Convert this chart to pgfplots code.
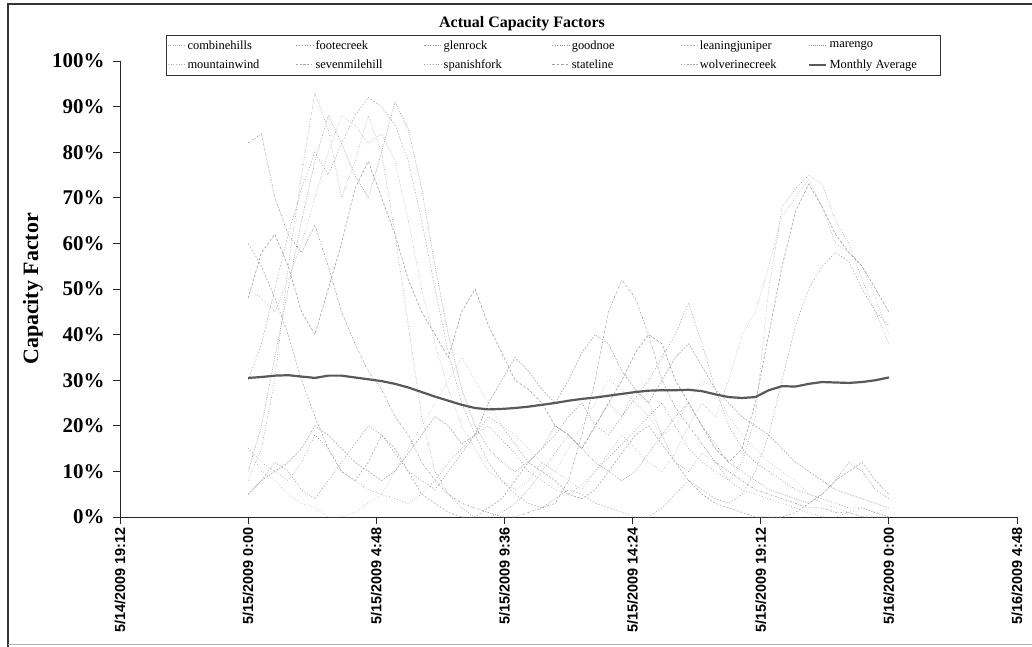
\documentclass[border=0pt]{standalone}
\usepackage{pgfplots}
\pgfplotsset{compat=1.18}
\usepackage{pgfplotstable}
\usepackage{fontspec}
\setmainfont{Liberation Serif}
\newfontfamily\sansf{Liberation Sans}

\pgfplotstableread{
h ch fc gr gn lj mr mw sm sf st wc avg
0 50 15 82 8 30 10 15 60 5 48 5 30.5
0.5 48 12 84 15 38 20 10 55 8 58 8 30.7
1 45 10 70 30 50 35 8 48 12 62 10 31.0
1.5 52 8 62 55 62 50 5 40 10 55 12 31.1
2 60 12 58 75 72 65 3 30 6 45 15 30.8
2.5 70 18 64 93 80 78 2 22 4 40 20 30.5
3 80 15 55 85 75 88 0 15 8 50 18 31.0
3.5 88 10 45 70 82 82 0 10 12 60 15 31.0
4 86 8 38 78 88 75 1 8 16 72 12 30.6
4.5 82 6 32 88 92 70 3 12 20 78 10 30.2
5 84 5 28 80 90 80 5 18 18 70 8 29.8
5.5 78 4 22 62 86 91 10 15 14 62 10 29.2
6 65 3 18 42 78 85 15 10 10 52 14 28.4
6.5 50 5 12 22 65 72 20 5 8 45 18 27.4
7 38 8 8 10 50 55 25 3 6 40 22 26.4
7.5 28 12 5 5 36 40 30 1 10 35 20 25.5
8 20 15 3 2 25 28 35 0 14 45 16 24.6
8.5 15 18 2 0 18 20 30 0 18 50 18 23.9
9 10 20 1 0 12 15 25 2 22 42 25 23.6
9.5 8 17 0 1 8 12 20 4 20 36 30 23.7
10 6 14 0 3 5 10 18 8 16 30 35 23.9
10.5 8 10 1 6 3 12 15 12 12 28 32 24.2
11 12 8 2 10 2 15 12 10 15 25 28 24.6
11.5 10 6 3 14 4 20 10 8 18 20 25 25.0
12 8 5 8 18 6 18 15 5 22 18 30 25.5
12.5 6 7 18 15 5 15 20 4 25 15 36 25.9
13 10 10 30 20 3 12 25 6 20 20 40 26.2
13.5 14 13 45 25 2 10 30 10 18 25 38 26.6
14 18 16 52 22 1 8 28 14 22 30 32 27.0
14.5 15 19 48 28 0 10 25 18 26 36 28 27.4
15 12 22 40 25 0 14 22 20 30 40 25 27.7
15.5 10 25 30 18 2 18 18 16 35 38 30 27.8
16 14 20 24 12 5 22 20 12 40 30 35 27.8
16.5 20 15 20 10 8 25 25 8 47 25 38 27.9
17 25 12 16 14 6 20 30 5 38 20 33 27.6
17.5 22 10 12 12 4 16 28 3 28 15 28 26.9
18 30 8 10 8 3 12 22 2 20 12 25 26.3
18.5 40 6 8 12 5 10 18 1 15 15 22 26.1
19 45 5 6 22 10 8 15 0 12 25 20 26.3
19.5 55 4 5 50 18 6 12 0 10 40 18 27.8
20 66 3 4 68 30 5 10 0 8 55 15 28.7
20.5 70 2 3 72 42 4 8 1 6 67 12 28.6
21 74 1 2 75 50 3 5 3 5 73 10 29.2
21.5 68 0 2 73 55 5 3 5 4 68 8 29.6
22 60 0 1 65 58 8 2 8 3 62 6 29.5
22.5 58 1 1 60 56 12 1 10 2 58 5 29.4
23 55 2 0 52 50 10 0 12 2 55 4 29.6
23.5 48 1 0 45 45 6 1 8 1 50 3 30.0
24 40 0 0 38 42 4 2 5 0 45 2 30.6
}\cf

\begin{document}
\begin{tikzpicture}
\useasboundingbox (0bp,0bp) rectangle (1032bp,-647bp);
\draw[line width=1.2bp, black!80] (8bp,-647bp) -- (8bp,-4bp) -- (1032bp,-4bp);
\draw[line width=0.8bp, black!30] (8bp,-644bp) -- (1032bp,-644bp);
\node[font=\bfseries\fontsize{16}{16}\selectfont] at (522bp,-24bp) {Actual Capacity Factors};
\node[rotate=90, font=\bfseries\fontsize{22}{22}\selectfont] at (33bp,-289bp) {Capacity Factor};
\begin{axis}[
  at={(120bp,-517bp)}, anchor=south west, scale only axis,
  width=897bp, height=456bp,
  xmin=-4.8, xmax=28.8, ymin=0, ymax=100,
  axis x line*=bottom, axis y line*=left,
  axis line style={-, black!85, line width=0.9bp},
  xtick={-4.8,0,4.8,9.6,14.4,19.2,24,28.8},
  xticklabels={5/14/2009 19:12, 5/15/2009 0:00, 5/15/2009 4:48, 5/15/2009 9:36, 5/15/2009 14:24, 5/15/2009 19:12, 5/16/2009 0:00, 5/16/2009 4:48},
  ytick={0,10,20,30,40,50,60,70,80,90,100},
  yticklabels={0\%,10\%,20\%,30\%,40\%,50\%,60\%,70\%,80\%,90\%,100\%},
  tick align=outside, major tick length=7bp,
  tick style={black!85, line width=0.8bp},
  yticklabel style={font=\bfseries\fontsize{21}{21}\selectfont, xshift=-5bp},
  xticklabel style={font=\sansf\bfseries\fontsize{14.5}{15}\selectfont, rotate=90, anchor=east, yshift=0bp},
  legend style={at={(0.4827,1.057)}, anchor=north, legend columns=6,
    draw=black!80, line width=0.8bp, fill=white,
    font=\fontsize{12.5}{13}\selectfont, inner xsep=2bp, inner ysep=3bp, row sep=5bp},
  legend cell align=left,
  every axis plot/.append style={line width=0.6bp, no marks},
]
\addplot[black!32, dash pattern=on 0.6bp off 1.6bp] table[x=h,y=ch]{\cf};
\addlegendentry{\makebox[106.5bp][l]{combinehills}}
\addplot[black!45, dash pattern=on 0.6bp off 2.2bp] table[x=h,y=fc]{\cf};
\addlegendentry{\makebox[106.5bp][l]{footecreek}}
\addplot[black!38, dash pattern=on 1.8bp off 1.4bp on 0.6bp off 1.4bp] table[x=h,y=gr]{\cf};
\addlegendentry{\makebox[106.5bp][l]{glenrock}}
\addplot[black!42, dash pattern=on 0.6bp off 1.8bp] table[x=h,y=gn]{\cf};
\addlegendentry{\makebox[106.5bp][l]{goodnoe}}
\addplot[black!30, dash pattern=on 1.4bp off 1.8bp] table[x=h,y=lj]{\cf};
\addlegendentry{\makebox[106.5bp][l]{leaningjuniper}}
\addplot[black!45, dash pattern=on 0.6bp off 1.3bp] table[x=h,y=mr]{\cf};
\addlegendentry{\makebox[106.5bp][l]{marengo}}
\addplot[black!30, dash pattern=on 0.6bp off 2bp] table[x=h,y=mw]{\cf};
\addlegendentry{\makebox[106.5bp][l]{mountainwind}}
\addplot[black!35, dash pattern=on 1.8bp off 1.8bp] table[x=h,y=sm]{\cf};
\addlegendentry{\makebox[106.5bp][l]{sevenmilehill}}
\addplot[black!38, dash pattern=on 1bp off 1.8bp] table[x=h,y=sf]{\cf};
\addlegendentry{\makebox[106.5bp][l]{spanishfork}}
\addplot[black!38, dash pattern=on 2.6bp off 1.8bp] table[x=h,y=st]{\cf};
\addlegendentry{\makebox[106.5bp][l]{stateline}}
\addplot[black!33, dash pattern=on 1.8bp off 1.3bp] table[x=h,y=wc]{\cf};
\addlegendentry{\makebox[106.5bp][l]{wolverinecreek}}
\addplot[black!65, line width=2.2bp] table[x=h,y=avg]{\cf};
\addlegendentry{\makebox[84bp][l]{Monthly Average}}
\end{axis}
\end{tikzpicture}
\end{document}
